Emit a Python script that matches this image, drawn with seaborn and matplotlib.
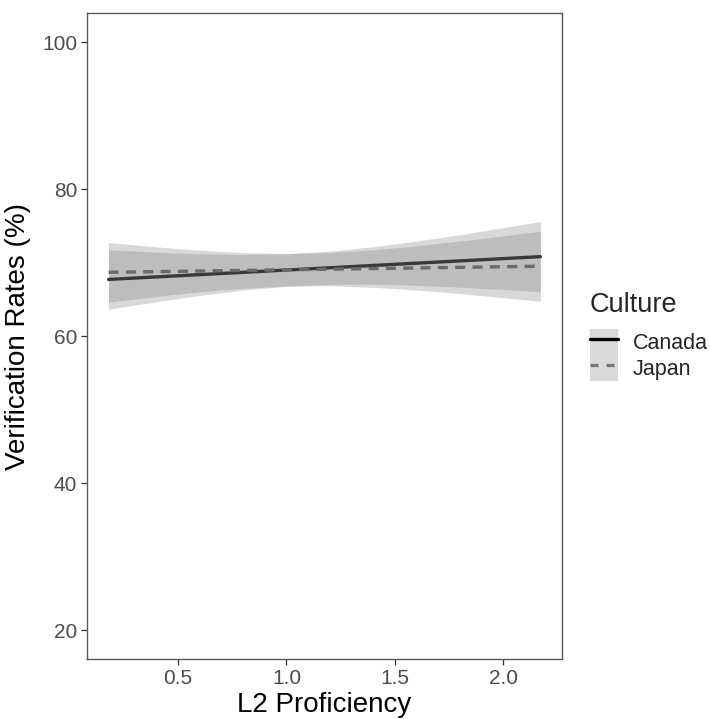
import numpy as np
import pandas as pd
import matplotlib
matplotlib.use("Agg")
import matplotlib.pyplot as plt
from matplotlib.lines import Line2D
from matplotlib.patches import Patch
from matplotlib.legend_handler import HandlerTuple
import seaborn as sns

# Fitted verification rate (%) at the ends of the L2 proficiency range
cultures = ["Canada", "Japan"]
x_ends = [0.18, 2.17]
canada_fit = [67.70, 70.80]
japan_fit = [68.67, 69.50]

# 95% confidence bands sampled along L2 proficiency
band_x = [0.18, 0.4, 0.6, 0.8, 1.0, 1.2, 1.4, 1.6, 1.8, 2.0, 2.17]
canada_lower = [63.65, 64.67, 65.52, 66.25, 66.77, 67.03, 67.05, 66.90, 66.64, 66.33, 66.02]
canada_upper = [71.75, 71.41, 71.18, 71.09, 71.19, 71.55, 72.15, 72.92, 73.80, 74.75, 75.58]
japan_lower = [64.62, 65.39, 66.02, 66.51, 66.80, 66.84, 66.63, 66.25, 65.77, 65.22, 64.72]
japan_upper = [72.72, 72.13, 71.68, 71.35, 71.22, 71.36, 71.73, 72.27, 72.93, 73.64, 74.28]

x_ticks = [0.5, 1.0, 1.5, 2.0]
y_ticks = [20, 40, 60, 80, 100]

sns.set_theme(style="white")
plt.rcParams["font.family"] = ["Liberation Sans", "DejaVu Sans"]

fit_df = pd.DataFrame({
    "L2 Proficiency": x_ends * 2,
    "Rate": canada_fit + japan_fit,
    "Culture": ["Canada"] * 2 + ["Japan"] * 2,
})

fig = plt.figure(figsize=(7.10, 7.19), dpi=100)
ax = fig.add_axes([0.1225, 0.0834, 0.669, 0.8985])

ribbon_color = "#878787"
ribbon_alpha = 0.32
ax.fill_between(band_x, canada_lower, canada_upper, color=ribbon_color,
                alpha=ribbon_alpha, linewidth=0, zorder=1)
ax.fill_between(band_x, japan_lower, japan_upper, color=ribbon_color,
                alpha=ribbon_alpha, linewidth=0, zorder=1)

sns.lineplot(data=fit_df, x="L2 Proficiency", y="Rate", hue="Culture",
             style="Culture", palette={"Canada": "#383838", "Japan": "#6a6a6a"},
             dashes={"Canada": "", "Japan": (3, 2.2)}, linewidth=2.4,
             legend=False, ax=ax, zorder=3)

ax.set_xlim(0.0805, 2.2695)
ax.set_ylim(16.05, 103.95)
ax.set_xticks(x_ticks)
ax.set_xticklabels([f"{v:.1f}" for v in x_ticks])
ax.set_yticks(y_ticks)
ax.set_yticklabels([str(v) for v in y_ticks])
ax.tick_params(axis="both", which="major", length=4.5, width=0.9,
               color="#333333", labelsize=15, labelcolor="#4d4d4d",
               pad=2.5, bottom=True, left=True)
for spine in ax.spines.values():
    spine.set_visible(True)
    spine.set_color("#5a5a5a")
    spine.set_linewidth(1.0)

ax.set_xlabel("L2 Proficiency", fontsize=20, color="black", labelpad=3)
ax.set_ylabel("Verification Rates (%)", fontsize=20, color="black", labelpad=8)
ax.grid(False)

# Legend keys: grey ribbon square behind each line style
key_bg = "#d9d9d9"
handles = [
    (Patch(facecolor=key_bg, edgecolor="none"),
     Line2D([0], [0], color="black", linewidth=2.4)),
    (Patch(facecolor=key_bg, edgecolor="none"),
     Line2D([0], [0], color="#7a7a7a", linewidth=2.4, dashes=(2.4, 2.4))),
]
leg = ax.legend(handles, cultures, title="Culture",
                handler_map={tuple: HandlerTuple(ndivide=1, pad=0)},
                loc="center left", bbox_to_anchor=(1.04, 0.499),
                frameon=False, fontsize=15.5, title_fontsize=19.5,
                handlelength=1.30, handleheight=1.48, labelspacing=0.0,
                handletextpad=0.7, borderaxespad=0.0)
leg._legend_box.align = "left"
leg._legend_box.sep = 8

fig.savefig("out.png", dpi=100, facecolor="white")
